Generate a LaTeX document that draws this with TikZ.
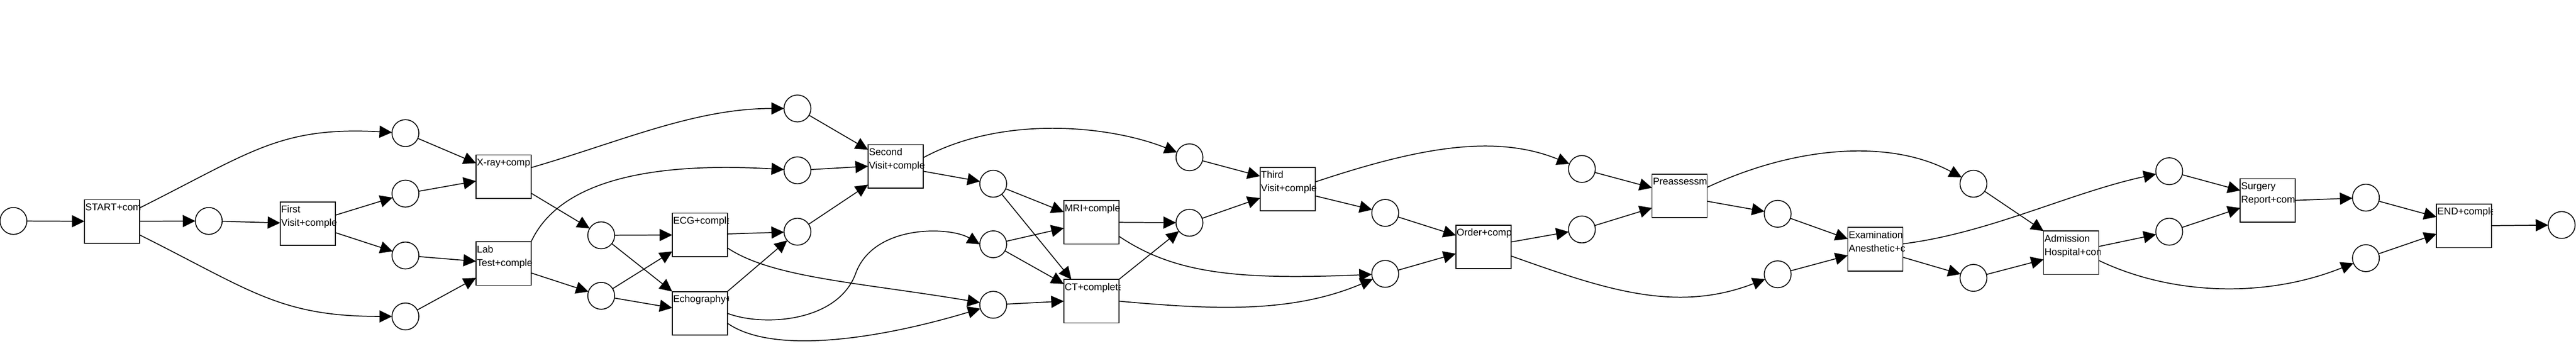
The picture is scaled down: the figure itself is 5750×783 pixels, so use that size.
\documentclass[tikz,border=0pt]{standalone}
\usepackage{fontspec}
\setmainfont{Liberation Sans}
\usetikzlibrary{arrows.meta,calc}
\newcommand{\mktrA}[3]{%
  \node[trans] (#1) at (#2) {};
  \begin{scope}
    \clip (#1.north west) rectangle ($(#1.south east)+(3,0)$);
    \node[tlab] (#1t) at ($(#1.north west)+(2,24)$) {#3};
  \end{scope}}
\newcommand{\mktrB}[4]{%
  \node[trans] (#1) at (#2) {};
  \begin{scope}
    \clip (#1.north west) rectangle ($(#1.south east)+(3,0)$);
    \node[tlab] (#1t) at ($(#1.north west)+(2,24)$) {#3};
    \node[tlab] (#1u) at ($(#1.north west)+(2,54)$) {#4};
  \end{scope}}
\begin{document}
\begin{tikzpicture}[x=0.5pt,y=-0.5pt,
  place/.style={draw,circle,line width=1pt,minimum size=30pt,inner sep=0pt,outer sep=0pt},
  trans/.style={draw,rectangle,line width=1pt,minimum width=61.5pt,minimum height=48.5pt,inner sep=0pt,outer sep=0pt},
  tlab/.style={anchor=base west,inner sep=0pt,outer sep=0pt,font=\fontsize{11pt}{13pt}\selectfont},
  arc/.style={line width=1pt,-{Triangle[length=14pt,width=13.5pt]}}]
\fill[white] (0,0) rectangle (5750,783);
\useasboundingbox (0,0) rectangle (5750,783);

% places
\node[place] (p0) at (30,493) {};
\node[place] (p1) at (466,493) {};
\node[place] (p2) at (905,297) {};
\node[place] (p3) at (905,432) {};
\node[place] (p4) at (905,570) {};
\node[place] (p5) at (905,706) {};
\node[place] (p6) at (1342,525) {};
\node[place] (p7) at (1342,660) {};
\node[place] (p8) at (1780,242) {};
\node[place] (p9) at (1780,380) {};
\node[place] (p10) at (1780,517) {};
\node[place] (p11) at (2217,410) {};
\node[place] (p12) at (2217,545) {};
\node[place] (p13) at (2217,680) {};
\node[place] (p14) at (2655,351) {};
\node[place] (p15) at (2655,497) {};
\node[place] (p16) at (3092,475) {};
\node[place] (p17) at (3092,611) {};
\node[place] (p18) at (3531,377) {};
\node[place] (p19) at (3531,512) {};
\node[place] (p20) at (3968,477) {};
\node[place] (p21) at (3968,612) {};
\node[place] (p22) at (4405,410) {};
\node[place] (p23) at (4405,620) {};
\node[place] (p24) at (4842,382) {};
\node[place] (p25) at (4842,517) {};
\node[place] (p26) at (5281,441) {};
\node[place] (p27) at (5281,576) {};
\node[place] (p28) at (5718,502) {};

% transitions
\mktrA{start}{250,494}{START+com}
\mktrB{first}{687,499}{First}{Visit+comple}
\mktrA{xray}{1124,394}{X-ray+comp}
\mktrB{lab}{1124,588}{Lab}{Test+comple}
\mktrA{ecg}{1562,524}{ECG+comple}
\mktrA{echo}{1562,699}{Echography+}
\mktrB{second}{1999,371}{Second}{Visit+comple}
\mktrA{mri}{2436,496}{MRI+comple}
\mktrA{ct}{2436,672}{CT+complete}
\mktrB{third}{2874,422}{Third}{Visit+comple}
\mktrA{order}{3311,551}{Order+comp}
\mktrA{pre}{3749,437}{Preassessm}
\mktrB{exam}{4186,556}{Examination}{Anesthetic+c}
\mktrB{adm}{4623,564}{Admission}{Hospital+com}
\mktrB{surg}{5062,447}{Surgery}{Report+com}
\mktrA{endt}{5500,504}{END+comple}

% arcs
\draw[arc] (p0) -- (start);
\draw[arc] (start) -- (p1);
\draw[arc] ($(start.east)+(0,-30)$) .. controls +(250,-125) and +(-280,-15) .. (p2);
\draw[arc] ($(start.east)+(0,30)$) .. controls +(250,125) and +(-280,0) .. (p5);
\draw[arc] (p1) -- (first);
\draw[arc] (first) -- (p3);
\draw[arc] (first) -- (p4);
\draw[arc] (p2) -- ($(xray.west)+(0,-30)$);
\draw[arc] (p3) -- ($(xray.west)+(0,10)$);
\draw[arc] (p4) -- ($(lab.west)+(0,-5)$);
\draw[arc] (p5) -- ($(lab.west)+(0,32)$);
\draw[arc] ($(xray.east)+(0,-20)$) .. controls +(200,-58) and +(-230,0) .. (p8);
\draw[arc] ($(xray.east)+(0,37)$) -- (p6);
\draw[arc] (lab.north east) .. controls +(74,-160) and +(-260,-15) .. (p9);
\draw[arc] ($(lab.east)+(0,21)$) -- (p7);
\draw[arc] (p6) -- (ecg);
\draw[arc] (p6) -- (echo.north west);
\draw[arc] (p7) -- ($(ecg.west)+(0,37)$);
\draw[arc] (p7) -- ($(echo.west)+(0,-12)$);
\draw[arc] (ecg) -- (p10);
\draw[arc] (echo.north east) -- (p10);
\draw[arc] ($(ecg.east)+(0,29)$) .. controls +(100,67) and +(-300,-50) .. (p13);
\draw[arc] (echo.east) .. controls +(78,30) and +(-40,110) .. (1910,610) .. controls +(40,-110) and +(-67,-40) .. (p12.west);
\draw[arc] ($(echo.east)+(0,22)$) .. controls +(98,69) and +(-267,80) .. (p13);
\draw[arc] (p8) -- ($(second.west)+(0,-37)$);
\draw[arc] (p9) -- (second.west);
\draw[arc] (p10) -- ($(second.west)+(0,41)$);
\draw[arc] ($(second.east)+(0,-19)$) .. controls +(180,-97) and +(-175,-70) .. (p14);
\draw[arc] ($(second.east)+(0,11)$) -- (p11);
\draw[arc] (p11) -- ($(mri.west)+(0,-23)$);
\draw[arc] (p11) -- ($(ct.north west)+(17,0)$);
\draw[arc] (p12) -- ($(mri.west)+(0,13)$);
\draw[arc] (p12) -- ($(ct.north west)+(0,10)$);
\draw[arc] (p13) -- (ct.west);
\draw[arc] (mri.east) -- (p15);
\draw[arc] (ct.north east) -- (p15);
\draw[arc] ($(mri.east)+(0,31)$) .. controls +(123,83) and +(-332,14) .. (p17);
\draw[arc] (ct.east) .. controls +(203,18) and +(-212,90) .. (p17);
\draw[arc] (p14) -- ($(third.west)+(0,-29)$);
\draw[arc] (p15) -- ($(third.west)+(0,20)$);
\draw[arc] ($(third.east)+(0,-16)$) .. controls +(214,-71) and +(-201,-82) .. (p18);
\draw[arc] ($(third.east)+(0,15)$) -- (p16);
\draw[arc] (p16) -- ($(order.west)+(0,-26)$);
\draw[arc] (p17) -- ($(order.west)+(0,15)$);
\draw[arc] ($(order.east)+(0,-11)$) -- (p19);
\draw[arc] ($(order.east)+(0,20)$) .. controls +(208,74) and +(-228,88) .. (p21);
\draw[arc] (p18) -- ($(pre.west)+(0,-18)$);
\draw[arc] (p19) -- ($(pre.west)+(0,27)$);
\draw[arc] ($(pre.east)+(0,-19)$) .. controls +(199,-93) and +(-185,-100) .. (p22);
\draw[arc] ($(pre.east)+(0,12)$) -- (p20);
\draw[arc] (p20) -- ($(exam.west)+(0,-23)$);
\draw[arc] (p21) -- ($(exam.west)+(0,14)$);
\draw[arc] ($(exam.east)+(0,-12)$) .. controls +(193,-24) and +(-222,48) .. (p24);
\draw[arc] ($(exam.east)+(0,18)$) -- (p23);
\draw[arc] (p22) -- (adm.north west);
\draw[arc] (p23) -- ($(adm.west)+(0,15)$);
\draw[arc] ($(adm.east)+(0,-14)$) -- (p25);
\draw[arc] ($(adm.east)+(0,17)$) .. controls +(165,79) and +(-221,89) .. (p27);
\draw[arc] (p24) -- ($(surg.west)+(0,-22)$);
\draw[arc] (p25) -- ($(surg.west)+(0,17)$);
\draw[arc] (surg.east) -- (p26);
\draw[arc] (p26) -- ($(endt.west)+(0,-20)$);
\draw[arc] (p27) -- ($(endt.west)+(0,18)$);
\draw[arc] (endt) -- (p28);
\end{tikzpicture}
\end{document}
